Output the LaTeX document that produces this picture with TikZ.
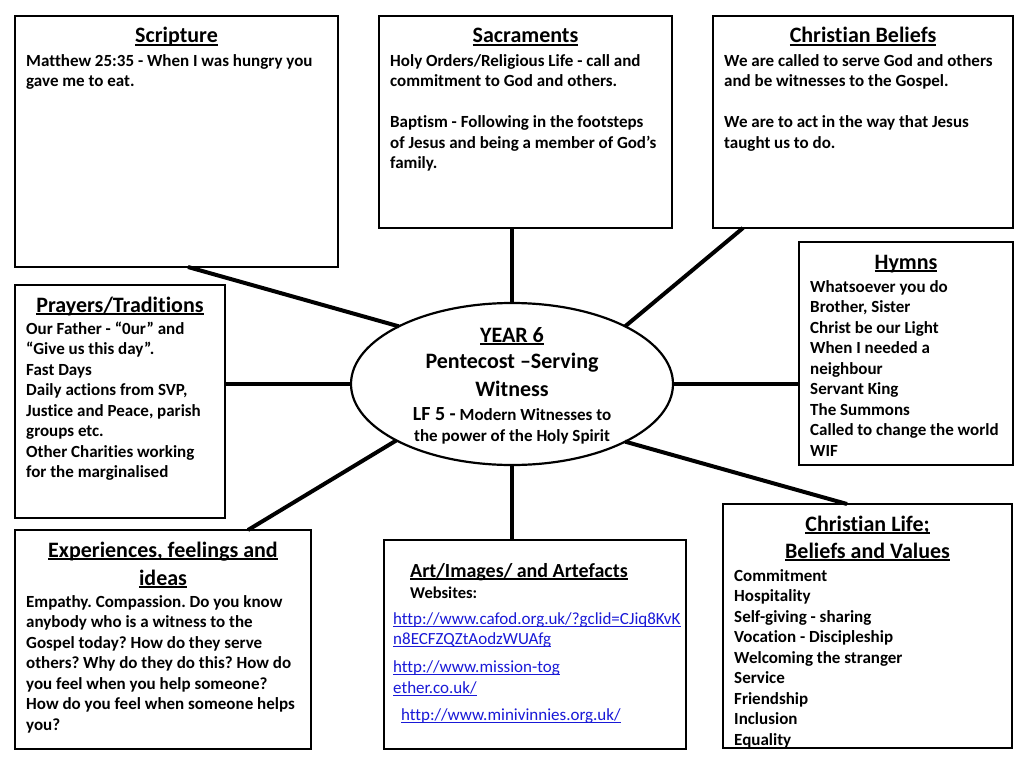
\documentclass[tikz,border=0pt]{standalone}
\usepackage{fontspec}
\setmainfont{Carlito}[Ligatures={NoCommon}]
\usetikzlibrary{shapes.geometric,calc}
\newsavebox\ulbox
\newcommand\myul[1]{\sbox\ulbox{#1}\rlap{\rule[-2.8pt]{\wd\ulbox}{1.5pt}}\usebox\ulbox}
\newcommand\lnk[1]{\sbox\ulbox{#1}\rlap{\rule[-2.4pt]{\wd\ulbox}{0.9pt}}\usebox\ulbox}
\newcommand\st{\rule{0pt}{14pt}}
\definecolor{linkblue}{RGB}{25,25,215}
\frenchspacing
\begin{document}
\begin{tikzpicture}[x=1pt,y=-1pt,
  box/.style={draw=black, line width=2.8pt, anchor=north west, inner sep=0pt, outer sep=0pt, fill=white},
  conn/.style={line width=4pt},
  ttl/.style={anchor=base, inner sep=0pt, font=\fontsize{22}{27}\selectfont\bfseries},
  body/.style={anchor=north west, inner sep=0pt, align=left, font=\fontsize{17}{20.5}\selectfont\bfseries},
  ctxt/.style={anchor=base, inner sep=0pt, font=\fontsize{22}{27}\selectfont\bfseries},
  link/.style={anchor=base west, inner sep=0pt, text=linkblue, font=\fontsize{17}{20.5}\selectfont}]
\useasboundingbox (0,0) rectangle (1024,768);
\fill[white] (0,0) rectangle (1024,768);

% boxes
\node[box, minimum width=323, minimum height=251] (scr) at (15,16) {};
\node[box, minimum width=293, minimum height=212] (sac) at (379,16) {};
\node[box, minimum width=300, minimum height=212] (bel) at (713,16) {};
\node[box, minimum width=214, minimum height=223] (hym) at (799,242) {};
\node[box, minimum width=210, minimum height=233] (pra) at (15,285) {};
\node[box, minimum width=296, minimum height=219] (exp) at (15,530) {};
\node[box, minimum width=302, minimum height=209] (art) at (384,540) {};
\node[box, minimum width=289, minimum height=244] (life) at (723,504) {};
\node[draw, ellipse, line width=2.2pt, minimum width=322, minimum height=162, inner sep=0pt, outer sep=0pt, fill=white] (ell) at (512,384) {};

% connectors
\draw[conn] ($(scr.south west)+(173,0)$) -- (ell.153);
\draw[conn] (ell.north) -- (ell.north |- sac.south);
\draw[conn] ($(bel.south west)+(30,0)$) -- (ell.27);
\draw[conn] (ell.east) -- (ell.east -| hym.west);
\draw[conn] (ell.west) -- (ell.west -| pra.east);
\draw[conn] ($(exp.north west)+(233,0)$) -- (ell.206);
\draw[conn] (ell.south) -- (ell.south |- art.north);
\draw[conn] ($(life.north west)+(124,0)$) -- (ell.333);

% Scripture
\node[ttl] (scrT) at (176.5,43) {\myul{Scripture}};
\node[body] (scrB) at (26,52) {\st Matthew 25:35 - When I was hungry you\\gave me to eat.};

% Sacraments
\node[ttl] (sacT) at (525.5,43) {\myul{Sacraments}};
\node[body] (sacB) at (390,52) {\st Holy Orders/Religious Life - call and\\commitment to God and others.\\[20.5pt]Baptism - Following in the footsteps\\of Jesus and being a member of God’s\\family.};

% Christian Beliefs
\node[ttl] (belT) at (863,43) {\myul{Christian Beliefs}};
\node[body] (belB) at (724,52) {\st We are called to serve God and others\\and be witnesses to the Gospel.\\[20.5pt]We are to act in the way that Jesus\\taught us to do.};

% Hymns
\node[ttl] (hymT) at (906,269) {\myul{Hymns}};
\node[body] (hymB) at (810,278) {\st Whatsoever you do\\Brother, Sister\\Christ be our Light\\When I needed a\\neighbour\\Servant King\\The Summons\\Called to change the world\\WIF};

% Prayers
\node[ttl] (praT) at (120,312) {\myul{Prayers/Traditions}};
\node[body] (praB) at (26,320) {\st Our Father - “0ur” and\\“Give us this day”.\\Fast Days\\Daily actions from SVP,\\Justice and Peace, parish\\groups etc.\\Other Charities working\\for the marginalised};

% Experiences
\node[ttl] (expT1) at (163,557) {\myul{Experiences, feelings and}};
\node[ttl] (expT2) at (163,585) {\myul{ideas}};
\node[body] (expB) at (26,593) {\st Empathy. Compassion. Do you know\\anybody who is a witness to the\\Gospel today? How do they serve\\others? Why do they do this? How do\\you feel when you help someone?\\How do you feel when someone helps\\you?};

% Art
\node[anchor=base west, inner sep=0pt, font=\fontsize{20}{24}\selectfont\bfseries] (artT) at (410,577) {\myul{Art/Images/ and Artefacts}};
\node[anchor=base west, inner sep=0pt, font=\fontsize{16.5}{20}\selectfont\bfseries] (artW) at (410,598) {Websites:};
\node[link] (l1a) at (393,624) {\lnk{http://www.cafod.org.uk/?gclid=CJiq8KvK}};
\node[link] (l1b) at (393,644) {\lnk{n8ECFZQZtAodzWUAfg}};
\node[link] (l2a) at (393,672) {\lnk{http://www.mission-tog}};
\node[link] (l2b) at (393,693) {\lnk{ether.co.uk/}};
\node[link] (l3) at (401,720) {\lnk{http://www.minivinnies.org.uk/}};

% Christian Life
\node[ttl] (lifeT1) at (867.5,531) {\myul{Christian Life;}};
\node[ttl] (lifeT2) at (867.5,558) {\myul{Beliefs and Values}};
\node[body] (lifeB) at (734,567) {\st Commitment\\Hospitality\\Self-giving - sharing\\Vocation - Discipleship\\Welcoming the stranger\\Service\\Friendship\\Inclusion\\Equality};

% Centre
\node[ctxt] (c1) at (512,342) {\myul{YEAR 6}};
\node[ctxt] (c2) at (512,368.5) {Pentecost –Serving};
\node[ctxt] (c3) at (512,396) {Witness};
\node[anchor=base, inner sep=0pt, font=\fontsize{17}{20}\selectfont\bfseries] (c4) at (512,420.5) {{\fontsize{20}{24}\selectfont LF 5 -}\ Modern Witnesses to};
\node[anchor=base, inner sep=0pt, font=\fontsize{17}{20}\selectfont\bfseries] (c5) at (512,441) {the power of the Holy Spirit};
\end{tikzpicture}
\end{document}
